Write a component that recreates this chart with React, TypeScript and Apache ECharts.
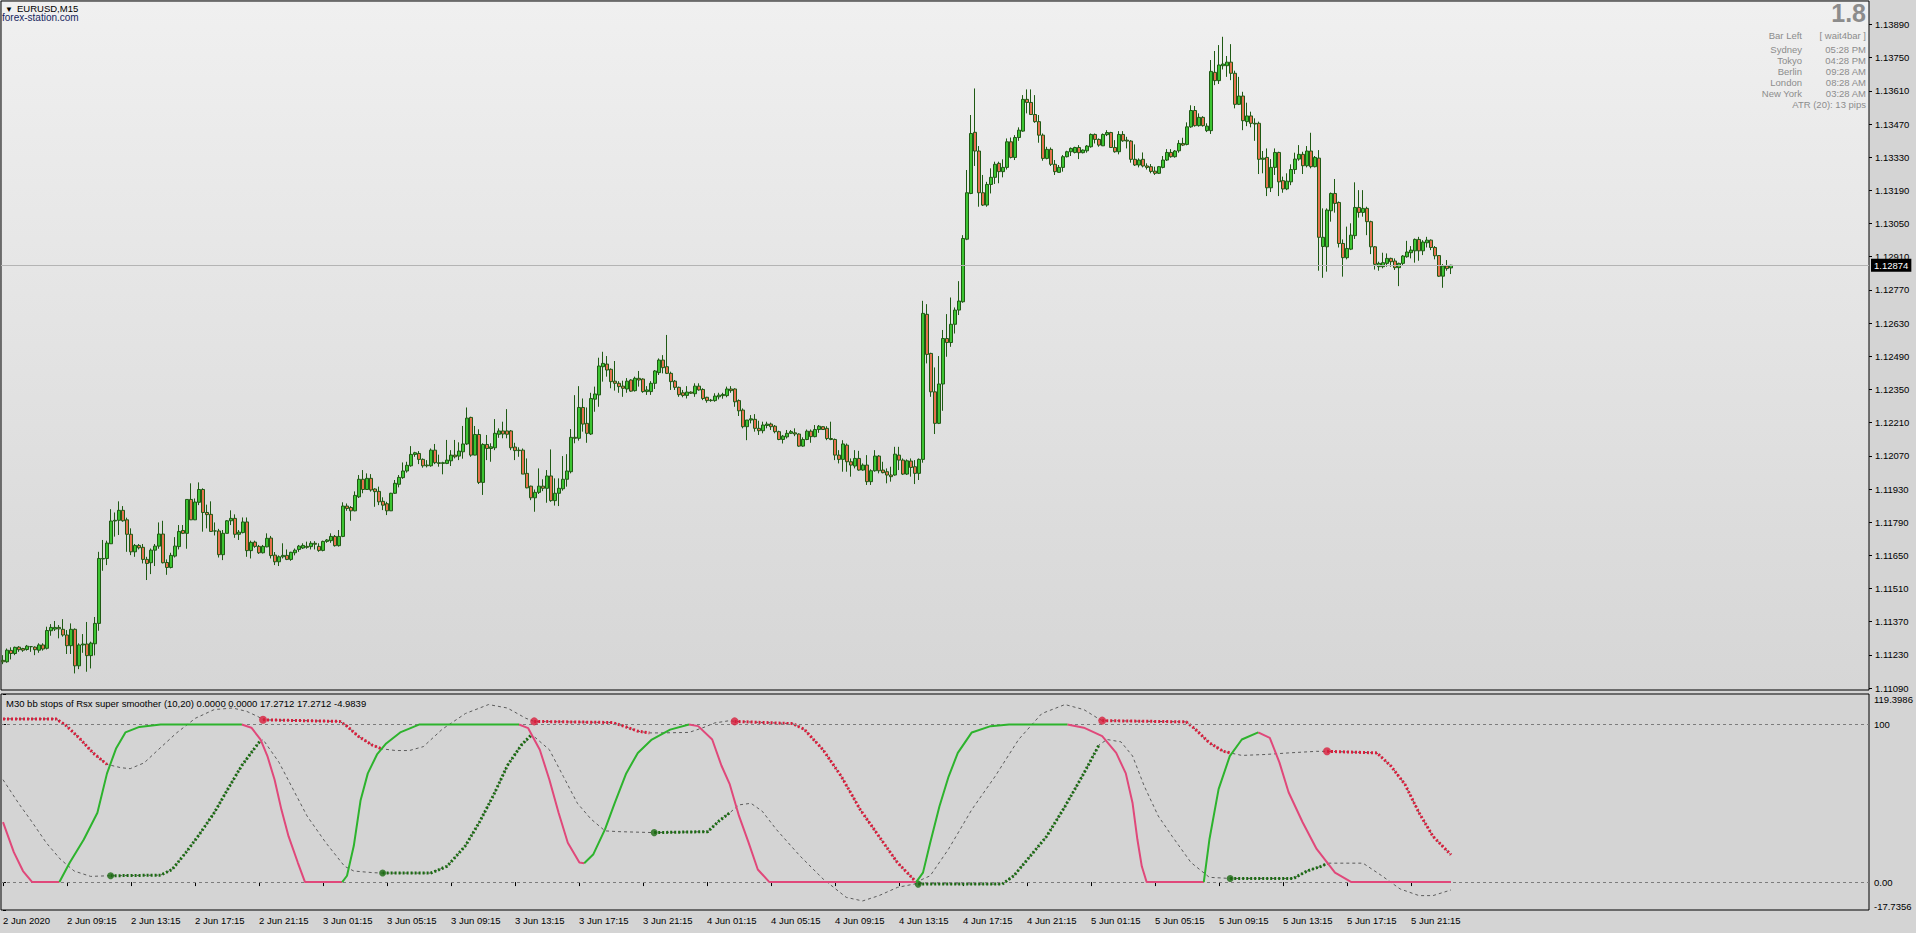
import React, { useEffect, useRef } from "react";
import * as echarts from "echarts";

const FONT = '"Liberation Sans", Arial, sans-serif';
const SYMBOL_TITLE = "EURUSD,M15";
const SITE = "forex-station.com";
const PRICE_BASE = 1.11;
const POINT = 0.00001;
const SLOT_COUNT = 467;
const LABEL_STEP = 16;

// OHLC in points above 1.11000 (M15 bars from 2 Jun 2020 05:15)
const opens = [
207,201,249,236,263,257,253,265,263,250,
272,258,332,339,346,338,314,269,338,184,
272,276,227,277,363,635,637,699,795,798,
840,800,739,665,692,684,633,619,672,689,
740,620,599,647,687,755,743,886,800,874,
928,831,823,753,753,653,743,796,806,739,
746,791,670,706,688,661,686,723,651,623,
644,650,633,661,675,681,688,687,701,688,
671,709,712,730,691,730,858,852,838,897,
971,928,975,930,920,878,868,838,912,950,
978,1006,1028,1076,1080,1055,1031,1028,1094,1041,
1038,1038,1049,1073,1069,1087,1120,1232,1073,1160,
958,1118,1101,1104,1161,1175,1175,1175,1107,1094,
1094,996,942,893,916,942,933,985,881,912,
931,971,1003,1148,1144,1274,1207,1162,1309,1327,
1446,1457,1435,1385,1376,1364,1352,1390,1345,1397,
1394,1341,1341,1376,1421,1474,1446,1418,1385,1359,
1336,1325,1339,1332,1364,1350,1317,1305,1303,1319,
1324,1324,1352,1352,1303,1263,1193,1221,1224,1186,
1176,1198,1204,1195,1172,1139,1150,1165,1167,1162,
1111,1139,1174,1151,1181,1193,1186,1143,1139,1073,
1055,1115,1045,1027,1059,1010,1031,961,1007,1069,
1010,1003,989,989,1073,1052,993,1048,1024,996,
1055,1667,1502,1340,1207,1373,1565,1548,1625,1685,
1720,1984,2177,2435,2356,2180,2128,2215,2245,2304,
2269,2287,2395,2329,2413,2440,2574,2561,2510,2480,
2423,2325,2363,2300,2266,2287,2332,2353,2350,2371,
2349,2357,2374,2426,2405,2378,2425,2434,2371,2353,
2426,2402,2398,2321,2297,2321,2293,2290,2271,2262,
2287,2318,2350,2332,2357,2388,2384,2458,2527,2463,
2498,2442,2442,2688,2653,2716,2716,2731,2684,2553,
2588,2480,2504,2473,2473,2321,2329,2201,2287,2350,
2231,2196,2226,2278,2322,2342,2294,2356,2290,2326,
1953,1952,2104,2177,2139,1966,1906,1942,1999,2118,
2097,2114,2058,1952,1868,1868,1882,1903,1892,1864,
1882,1910,1927,1935,1983,1935,1969,1980,1949,1915,
1828,1871,1863];

const highs = [
229,257,262,265,267,260,272,267,266,279,
279,349,360,373,356,381,335,363,342,279,
318,369,286,390,665,715,712,845,831,878,
858,809,764,698,698,698,644,679,698,789,
796,633,661,727,778,778,886,954,890,958,
933,864,878,789,762,757,799,840,823,757,
810,810,712,712,694,694,743,732,664,650,
701,675,665,679,694,701,708,710,710,701,
712,719,743,736,757,874,869,858,920,989,
1010,996,993,933,940,895,876,914,968,989,
1042,1045,1111,1087,1090,1059,1052,1101,1120,1075,
1045,1137,1094,1137,1127,1196,1274,1235,1196,1182,
1123,1158,1123,1225,1186,1214,1267,1179,1125,1106,
1101,1059,944,928,1017,971,1010,1097,975,975,
1069,1077,1183,1326,1364,1312,1274,1336,1362,1484,
1509,1491,1439,1470,1385,1387,1398,1393,1404,1428,
1397,1364,1385,1432,1481,1495,1580,1425,1390,1362,
1348,1364,1342,1376,1376,1355,1319,1310,1334,1336,
1336,1362,1364,1355,1308,1270,1221,1242,1246,1218,
1214,1214,1210,1200,1176,1158,1179,1179,1186,1165,
1148,1181,1181,1200,1200,1195,1195,1214,1143,1094,
1136,1122,1059,1094,1091,1038,1073,1013,1094,1073,
1045,1017,1024,1108,1108,1059,1055,1059,1052,1059,
1724,1710,1505,1443,1491,1601,1668,1738,1696,1807,
2001,2276,2508,2620,2377,2255,2226,2283,2311,2311,
2321,2409,2413,2423,2456,2592,2616,2616,2592,2508,
2430,2374,2371,2318,2297,2339,2357,2371,2374,2381,
2363,2381,2430,2430,2409,2430,2444,2437,2402,2440,
2440,2416,2402,2384,2325,2350,2304,2301,2290,2293,
2335,2364,2364,2360,2402,2412,2477,2549,2546,2515,
2503,2473,2740,2778,2803,2838,2757,2807,2695,2669,
2606,2560,2522,2494,2480,2356,2367,2322,2367,2353,
2248,2262,2300,2349,2381,2353,2377,2433,2335,2360,
2114,2114,2181,2238,2143,1983,2037,2051,2224,2191,
2191,2121,2062,1955,1889,1927,1924,1906,1903,1885,
1917,1977,1955,1987,1994,1980,1994,1983,1955,1917,
1879,1896,1876];

const lows = [
191,197,211,229,243,243,248,243,229,239,
248,253,311,331,300,307,234,234,152,170,
239,159,173,228,332,585,609,698,729,736,
792,665,651,644,675,616,546,571,605,678,
616,568,595,641,675,740,678,799,799,862,
750,764,750,734,641,630,743,778,724,715,
743,644,637,682,656,658,684,637,609,605,
637,630,627,650,665,677,678,675,675,665,
667,703,703,687,687,727,838,796,836,892,
912,926,919,855,862,841,820,837,909,937,
973,999,1024,1066,1035,1020,1021,1024,1035,1024,
992,1035,1027,1059,1052,1058,1116,1066,1072,951,
905,1052,1045,1094,1146,1144,1144,1094,1052,1066,
993,933,883,834,909,921,872,876,860,858,
923,940,996,1123,1134,1172,1125,1158,1256,1277,
1383,1404,1355,1345,1336,1319,1336,1340,1341,1362,
1336,1327,1327,1352,1411,1418,1415,1348,1348,1319,
1317,1312,1331,1319,1345,1305,1294,1298,1298,1308,
1311,1317,1336,1277,1238,1186,1136,1207,1172,1158,
1165,1186,1179,1165,1136,1122,1143,1162,1153,1108,
1108,1136,1125,1148,1167,1179,1136,1136,1052,1038,
1003,1003,982,1017,1007,1007,947,947,1003,996,
996,954,961,986,1010,989,989,982,951,968,
1041,1460,1319,1162,1204,1260,1488,1530,1586,1664,
1716,1980,2174,2293,2121,2124,2121,2177,2217,2220,
2245,2278,2325,2318,2399,2437,2515,2508,2475,2391,
2315,2321,2293,2255,2264,2269,2329,2335,2346,2322,
2346,2349,2370,2388,2374,2377,2419,2370,2349,2342,
2395,2367,2307,2293,2287,2287,2278,2262,2255,2259,
2283,2314,2328,2328,2349,2377,2380,2454,2459,2459,
2459,2436,2428,2634,2639,2700,2669,2655,2536,2550,
2444,2461,2456,2399,2259,2262,2166,2183,2255,2166,
2180,2191,2212,2259,2315,2259,2287,2283,2287,1851,
1821,1847,2058,2096,1949,1826,1899,1938,1985,2075,
2079,2001,1921,1856,1851,1861,1868,1868,1854,1786,
1875,1906,1903,1885,1893,1917,1949,1938,1899,1825,
1779,1851,1837];

const closes = [
201,250,236,262,252,250,267,265,252,272,
255,333,346,346,340,314,269,338,184,272,
276,227,280,363,637,637,702,795,798,840,
796,739,665,692,682,633,616,672,689,740,
619,599,650,689,751,743,886,800,875,928,
831,822,751,753,653,743,796,806,739,748,
791,670,705,688,661,688,722,649,623,644,
650,633,663,672,689,692,684,701,697,671,
709,715,730,691,730,858,848,838,903,971,
928,975,926,919,876,862,838,912,954,979,
1006,1030,1076,1083,1055,1028,1028,1094,1041,1038,
1041,1052,1073,1066,1090,1120,1229,1073,1160,958,
1118,1101,1108,1165,1175,1162,1161,1104,1092,1092,
993,935,893,916,942,933,985,881,912,933,
971,1006,1148,1144,1274,1204,1165,1312,1331,1449,
1460,1432,1383,1376,1362,1355,1385,1343,1397,1390,
1341,1348,1376,1428,1474,1442,1418,1383,1359,1328,
1325,1339,1334,1364,1348,1312,1303,1303,1322,1326,
1329,1352,1345,1298,1260,1193,1221,1226,1186,1176,
1200,1204,1193,1172,1139,1153,1165,1172,1162,1111,
1139,1174,1151,1181,1195,1181,1143,1139,1073,1055,
1120,1045,1031,1059,1010,1031,961,1007,1069,1007,
999,989,982,1077,1052,993,1049,1021,996,1055,
1671,1498,1340,1207,1373,1565,1548,1625,1685,1723,
1987,2180,2430,2356,2180,2128,2215,2245,2300,2269,
2287,2395,2329,2413,2444,2574,2561,2510,2480,2423,
2325,2363,2300,2269,2287,2332,2353,2367,2371,2349,
2360,2377,2426,2405,2381,2426,2434,2371,2353,2426,
2399,2398,2321,2297,2318,2293,2287,2270,2262,2290,
2318,2350,2332,2356,2388,2381,2458,2527,2463,2498,
2463,2461,2692,2653,2719,2723,2731,2684,2553,2588,
2484,2504,2473,2470,2321,2326,2201,2287,2350,2226,
2196,2229,2278,2322,2342,2294,2356,2290,2329,1992,
1992,2107,2177,2135,1966,1906,1945,2001,2118,2097,
2114,2058,1952,1878,1882,1885,1903,1889,1864,1882,
1913,1930,1938,1983,1935,1972,1980,1949,1914,1828,
1871,1860,1874];

const timeLabels = [
  "2 Jun 2020", "2 Jun 09:15", "2 Jun 13:15", "2 Jun 17:15", "2 Jun 21:15",
  "3 Jun 01:15", "3 Jun 05:15", "3 Jun 09:15", "3 Jun 13:15", "3 Jun 17:15", "3 Jun 21:15",
  "4 Jun 01:15", "4 Jun 05:15", "4 Jun 09:15", "4 Jun 13:15", "4 Jun 17:15", "4 Jun 21:15",
  "5 Jun 01:15", "5 Jun 05:15", "5 Jun 09:15", "5 Jun 13:15", "5 Jun 17:15", "5 Jun 21:15",
];

const priceTicks = [
  1.1109, 1.1123, 1.1137, 1.1151, 1.1165, 1.1179, 1.1193, 1.1207, 1.1221, 1.1235, 1.1249,
  1.1263, 1.1277, 1.1291, 1.1305, 1.1319, 1.1333, 1.1347, 1.1361, 1.1375, 1.1389,
];
const PRICE_MIN = 1.11082;
const PRICE_MAX = 1.13989;

const IND_MIN = -17.7356;
const IND_MAX = 119.3986;
const indLevels = [100, 0];
const indTicks = [IND_MAX, 100, 0, IND_MIN];
const indicatorName = "M30 bb stops of Rsx super smoother (10,20)";
const indicatorValues = ["0.0000", "0.0000", "17.2712", "17.2712", "-4.9839"];

// RSX super smoother line: [bar index, value]
const rsxRising = [
  [[14.1,0],[16.7,12.4],[20.2,27],[23.6,44],[26,69],[28.3,85],[30.6,95],[34.1,98.5],[39.4,100],[59.7,100]],
  [[84.8,0],[86,4],[87.7,23],[89.4,52],[91.2,69],[93.5,81],[95.8,88],[99.3,95],[104,100],[129,100]],
  [[145.3,12],[147.6,17.7],[150.5,33.5],[152.9,50],[155.8,69],[158.7,82],[162.2,90.5],[166.8,96.8],[171.5,100]],
  [[228.3,0],[230,6],[231.8,25],[234.1,48],[236.4,67],[238.7,82],[242.2,95],[246.9,99],[251.5,100],[266.1,100]],
  [[300.2,0],[301.6,27],[303.9,59],[306.7,80],[309.7,90.5],[313.8,95]],
];
const rsxFalling = [
  [[0,38],[2.7,19],[5,7],[7.3,0],[14.1,0]],
  [[59.7,100],[62.1,98],[64.4,90.5],[66.1,80],[67.9,65],[69.6,46],[71.4,29],[73.7,12.4],[75.5,0],[84.8,0]],
  [[129,100],[131.3,97.7],[134.2,84],[136.6,65],[138.9,44],[141.2,25],[144.1,12.4],[145.3,12]],
  [[171.5,100],[173.8,99],[177.3,90.5],[179.6,74],[181.7,62],[184,42],[186.4,25],[188.7,8],[191.6,0],[228.3,0]],
  [[266.1,100],[270.2,98],[274.8,92.6],[278.3,82],[280.7,69],[282.4,50],[283.6,27],[284.7,10],[285.9,0],[300.2,0]],
  [[313.8,95],[316.7,91.6],[319.1,76],[321.4,57],[324.9,38],[328.4,21],[333,6],[337.1,0],[362,0]],
];
const upperBand = [[0,103.6],[13.2,103.6],[15.5,100],[19,91.6],[22.5,82],[26,74.7],[29.5,72.6],[31.8,72],[35.3,75.7],[38.8,84],[43.4,94.7],[48.1,104],[52.8,109.5],[57.4,110.5],[60.9,108.4],[63.8,105],[65,103],[84.2,102],[86,99],[88.8,92.6],[92.3,87],[94.7,84.6],[98.2,83.5],[101.6,83.5],[105.1,86],[109.8,97],[115.6,107],[121.4,112.7],[126.1,110.5],[130.7,104],[132.8,102],[152.3,101.3],[155.2,99],[158.7,95.8],[161.6,94.7],[164.5,94.7],[171.5,95],[175,98],[177.9,101],[181.7,102.5],[182.9,102],[197.4,100.6],[200.3,97],[205,84],[209.6,67],[214.3,46],[219,29],[223.6,12.4],[228.3,0],[231.8,4],[236.4,21],[242.2,46],[248,67],[253.9,90.5],[259.7,107],[265.5,112.7],[270.2,109.5],[273.7,104],[274.8,102.5],[295.8,101.7],[298.1,97],[301.6,88.4],[305.1,83],[306.8,82],[309.7,80.4],[315.6,81],[321.4,82],[328.4,83],[331,83],[343.5,82],[347,73.6],[350.5,62],[354,44],[357.5,29],[362,17.3]];
const lowerBand = [[0,65],[3.9,50],[7.3,38],[10.8,25],[14.3,14.6],[17.8,7],[21.9,3.6],[26.6,4],[39.4,4.4],[42.3,8],[45.8,19],[49.3,31],[52.8,44],[56.2,59],[59.7,74],[63.2,86],[65,90.5],[69,76],[72.5,59],[76,42],[80.7,25],[85.4,10],[87.7,7],[92.3,6],[94.9,5.7],[106.9,5.7],[111,10],[115.6,23],[119.1,38],[122.6,55],[126.1,74],[129.6,87],[132.5,93],[136.6,84],[140.1,67],[143.6,50],[147,40],[150.5,32.5],[154,32],[162.8,31.4],[176.2,32],[179.1,39],[181.7,44],[184,49],[187,50],[189.8,45],[193.3,33.5],[199.2,16.7],[205,2],[210.8,-9.7],[214.9,-12],[219,-8.6],[223.6,-3.4],[228.3,-1],[249.8,-1.3],[252.7,4],[256.2,14.6],[260.9,29],[265.5,48],[270.2,69],[274,87],[276,90.5],[279.5,89],[282.4,80],[285.3,61],[288.8,42],[292.3,29],[297,12.4],[301.6,3],[306.8,2.3],[322.6,2.3],[326,7],[329.5,10],[331.3,12],[340,12],[344.7,4],[349.3,-4.4],[354,-8.6],[357.5,-8.6],[362,-5]];
const sellStops = [
  [[0,103.6],[13.2,103.6],[15.5,100],[19,91.6],[22.5,82],[26,74.7]],
  [[65,103],[84.2,102],[86,99],[88.8,92.6],[92.3,87],[94.7,84.6]],
  [[132.8,102],[152.3,101.3],[155.2,99],[158.7,95.8],[161.6,94.7]],
  [[182.9,102],[197.4,100.6],[200.3,97],[205,84],[209.6,67],[214.3,46],[219,29],[223.6,12.4],[228.3,0]],
  [[274.8,102.5],[295.8,101.7],[298.1,97],[301.6,88.4],[305.1,83],[306.8,82]],
  [[331,83],[343.5,82],[347,73.6],[350.5,62],[354,44],[357.5,29],[362,17.3]],
];
const buyStops = [
  [[26.9,4],[39.4,4.4],[42.3,8],[45.8,19],[49.3,31],[52.8,44],[56.2,59],[59.7,74],[63.2,86],[64.4,90]],
  [[94.9,5.7],[106.9,5.7],[111,10],[115.6,23],[119.1,38],[122.6,55],[126.1,74],[129.6,87],[131.9,93]],
  [[162.8,31.4],[176.2,32],[179.1,39],[181.7,44]],
  [[228.8,-1.3],[249.8,-1.3],[252.7,4],[256.2,14.6],[260.9,29],[265.5,48],[270.2,69],[274,87]],
  [[306.8,2.3],[322.6,2.3],[326,7],[329.5,10],[331.3,12]],
];

const infoBig = "1.8";
const infoLabels = ["Bar Left", "Sydney", "Tokyo", "Berlin", "London", "New York"];
const infoValues = ["[ wait4bar ]", "05:28 PM", "04:28 PM", "09:28 AM", "08:28 AM", "03:28 AM"];
const atrText = "ATR (20): 13 pips";

const GREEN = "#2db32d";
const PINK = "#e0487a";
const RED_DOT = "#d81e3c";
const GREEN_DOT = "#1b6a12";
const BAND = "#5c5c5c";

function buildOption() {
  const toPrice = (v: number) => Math.round((PRICE_BASE + v * POINT) * 1e5) / 1e5;
  const candleData = opens.map((o, i) => [toPrice(o), toPrice(closes[i]), toPrice(lows[i]), toPrice(highs[i])]);
  const lastIndex = closes.length - 1;
  const lastPrice = toPrice(closes[lastIndex]);
  const slots = Array.from({ length: SLOT_COUNT }, (_, i) => String(i));
  const xTicks = timeLabels.map((_, k) => k * LABEL_STEP);

  const line = (data: number[][], color: string, width: number, type: any, z: number) => ({
    type: "line",
    xAxisIndex: 1,
    yAxisIndex: 1,
    data,
    symbol: "none",
    showSymbol: false,
    silent: true,
    z,
    lineStyle: { color, width, type, cap: "butt" },
  });

  const series: any[] = [
    {
      // current price line (bid)
      type: "line",
      xAxisIndex: 0,
      yAxisIndex: 0,
      data: [[lastIndex, lastPrice]],
      symbol: "none",
      showSymbol: false,
      silent: true,
      z: 1,
      lineStyle: { opacity: 0 },
      markLine: {
        silent: true,
        precision: 5,
        symbol: ["none", "none"],
        lineStyle: { color: "#b4b4b4", type: "solid", width: 1 },
        label: {
          show: true,
          position: "end",
          distance: 2,
          formatter: lastPrice.toFixed(5),
          backgroundColor: "#000",
          color: "#fff",
          padding: [2, 3, 1, 3],
          fontSize: 9.5,
          fontFamily: FONT,
        },
        data: [{ yAxis: lastPrice }],
      },
    },
    {
      type: "candlestick",
      xAxisIndex: 0,
      yAxisIndex: 0,
      data: candleData,
      barWidth: 3,
      silent: true,
      z: 2,
      itemStyle: {
        color: "#3cc432",
        color0: "#e6714e",
        borderColor: "#1f5a14",
        borderColor0: "#1f5a14",
        borderColorDoji: "#1f5a14",
        borderWidth: 1,
      },
    },
    {
      ...line(upperBand, BAND, 1, [3, 3], 3),
      markLine: {
        silent: true,
        precision: 4,
        symbol: ["none", "none"],
        label: { show: false },
        lineStyle: { color: "#7c7c7c", type: [3, 3], width: 1 },
        data: indLevels.map((v) => ({ yAxis: v })),
      },
    },
    line(lowerBand, BAND, 1, [3, 3], 3),
  ];
  sellStops.forEach((s) => series.push(line(s, RED_DOT, 3, [2, 2], 4)));
  buyStops.forEach((s) => series.push(line(s, GREEN_DOT, 3, [2, 2], 4)));
  series.push({
    type: "scatter",
    xAxisIndex: 1,
    yAxisIndex: 1,
    silent: true,
    z: 5,
    symbolSize: 8,
    itemStyle: { color: RED_DOT },
    data: sellStops.filter((s) => s[0][0] > 0).map((s) => s[0]),
  });
  series.push({
    type: "scatter",
    xAxisIndex: 1,
    yAxisIndex: 1,
    silent: true,
    z: 5,
    symbolSize: 7,
    itemStyle: { color: GREEN_DOT },
    data: buyStops.map((s) => s[0]),
  });
  rsxFalling.forEach((s) => series.push(line(s, PINK, 2, "solid", 6)));
  rsxRising.forEach((s) => series.push(line(s, GREEN, 2, "solid", 6)));

  const txt = (text: string, x: number, y: number, opts: any = {}) => ({
    type: "text",
    x,
    y,
    silent: true,
    z: 100,
    style: {
      text,
      fill: opts.fill ?? "#000",
      fontSize: opts.fontSize ?? 9.5,
      fontFamily: FONT,
      fontWeight: opts.fontWeight ?? "normal",
      align: opts.align ?? "left",
      verticalAlign: "middle",
    },
  });

  const infoRowsY = [35, 49.5, 60.5, 71.5, 82, 93];
  const graphics: any[] = [
    txt("▼", 5, 9, { fontSize: 8 }),
    txt(SYMBOL_TITLE, 17, 8.5),
    txt(SITE, 2, 17.5, { fill: "#15265e", fontSize: 10 }),
    txt(infoBig, 1866, 13, { fill: "#8c8c8c", fontSize: 25, fontWeight: "bold", align: "right" }),
    txt(atrText, 1866, 104.5, { fill: "#8c8c8c", align: "right" }),
    txt(`${indicatorName} ${indicatorValues.join(" ")}`, 6, 703),
  ];
  infoLabels.forEach((l, k) => {
    graphics.push(txt(l, 1802, infoRowsY[k], { fill: "#8c8c8c", align: "right" }));
    graphics.push(txt(infoValues[k], 1866, infoRowsY[k], { fill: "#8c8c8c", align: "right" }));
  });

  const axisText = { color: "#000", fontSize: 9.5, fontFamily: FONT };

  return {
    animation: false,
    backgroundColor: "#d4d4d4",
    textStyle: { fontFamily: FONT },
    grid: [
      {
        left: 1,
        top: 1,
        width: SLOT_COUNT * 4,
        height: 689,
        show: true,
        borderColor: "#000",
        borderWidth: 1,
        backgroundColor: {
          type: "linear",
          x: 0,
          y: 0,
          x2: 0,
          y2: 1,
          colorStops: [
            { offset: 0, color: "#f0f0f0" },
            { offset: 1, color: "#d6d6d6" },
          ],
        },
        outerBoundsMode: "none",
      },
      {
        left: 1,
        top: 694,
        width: SLOT_COUNT * 4,
        height: 216,
        show: true,
        borderColor: "#000",
        borderWidth: 1,
        backgroundColor: "#d4d4d4",
        outerBoundsMode: "none",
      },
    ],
    xAxis: [
      {
        type: "category",
        gridIndex: 0,
        data: slots,
        boundaryGap: true,
        axisLine: { show: false },
        axisTick: { show: false },
        axisLabel: { show: false },
        splitLine: { show: false },
      },
      {
        type: "value",
        gridIndex: 1,
        min: -0.5,
        max: SLOT_COUNT - 0.5,
        axisLine: { show: false },
        splitLine: { show: false },
        axisTick: {
          show: true,
          inside: false,
          length: 4,
          customValues: xTicks,
          lineStyle: { color: "#000", width: 1 },
        },
        axisLabel: {
          show: true,
          customValues: xTicks,
          align: "left",
          margin: 5,
          ...axisText,
          formatter: (v: number) => timeLabels[Math.round(v / LABEL_STEP)] ?? "",
        },
      },
    ],
    yAxis: [
      {
        type: "value",
        gridIndex: 0,
        position: "right",
        min: PRICE_MIN,
        max: PRICE_MAX,
        axisLine: { show: false },
        splitLine: { show: false },
        axisTick: {
          show: true,
          inside: false,
          length: 3,
          customValues: priceTicks,
          lineStyle: { color: "#000", width: 1 },
        },
        axisLabel: {
          show: true,
          customValues: priceTicks,
          margin: 6,
          showMinLabel: true,
          showMaxLabel: true,
          ...axisText,
          formatter: (v: number) => v.toFixed(5),
        },
      },
      {
        type: "value",
        gridIndex: 1,
        position: "right",
        min: IND_MIN,
        max: IND_MAX,
        axisLine: { show: false },
        splitLine: { show: false },
        axisTick: {
          show: true,
          inside: false,
          length: 3,
          customValues: indTicks,
          lineStyle: { color: "#000", width: 1 },
        },
        axisLabel: {
          show: true,
          customValues: indTicks,
          margin: 5,
          showMinLabel: true,
          showMaxLabel: true,
          ...axisText,
          formatter: (v: number) => {
            if (Math.abs(v - IND_MAX) < 1e-6) return `{hi|${IND_MAX.toFixed(4)}}`;
            if (Math.abs(v - IND_MIN) < 1e-6) return `{lo|${IND_MIN.toFixed(4)}}`;
            if (v === 0) return "0.00";
            return String(v);
          },
          rich: {
            hi: { padding: [11, 0, 0, 0], ...axisText },
            lo: { padding: [0, 0, 8, 0], ...axisText },
          },
        },
      },
    ],
    series,
    graphic: { elements: graphics },
  };
}

export default function App() {
  const ref = useRef<HTMLDivElement>(null);
  useEffect(() => {
    if (!ref.current) return;
    const chart = echarts.init(ref.current, null, { renderer: "svg" });
    chart.setOption(buildOption() as any);
    return () => chart.dispose();
  }, []);
  return (
    <div
      ref={ref}
      style={{ position: "fixed", left: 0, top: 0, width: 1916, height: 933 }}
    />
  );
}
